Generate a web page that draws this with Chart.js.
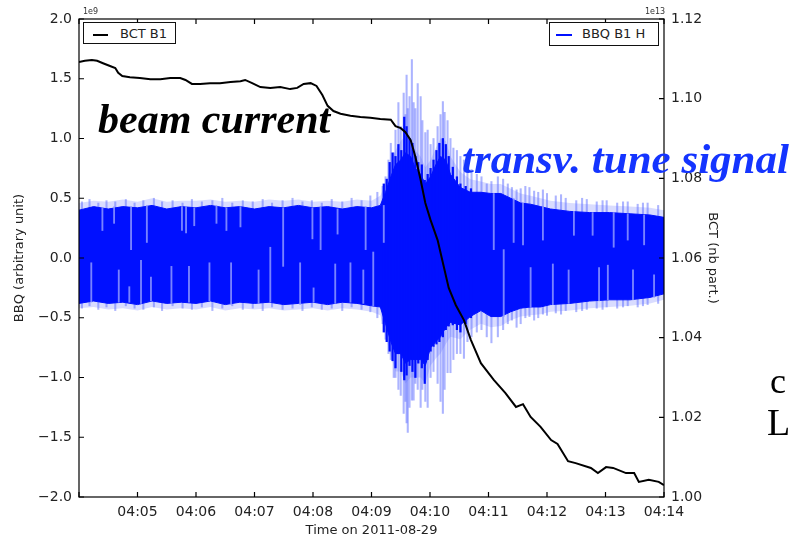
<!DOCTYPE html>
<html>
<head>
<meta charset="utf-8">
<script src="https://cdn.jsdelivr.net/npm/chart.js@4.4.1/dist/chart.umd.min.js"></script>
<style>
  html, body { margin: 0; padding: 0; background: #fff; }
  #wrap { position: relative; width: 791px; height: 539px; overflow: hidden; }
  #chart { position: absolute; left: 0; top: 0; }
  .lbl { position: absolute; white-space: nowrap; }
  .legend { position: absolute; border: 1.5px solid #111; background: #fff;
            font: 13px "DejaVu Sans", sans-serif; color: #222; box-sizing: border-box; }
  .legend .swatch { position: absolute; height: 1.5px; }
  .legend .txt { position: absolute; top: 3px; }
  .note { font-family: "Liberation Serif", "Times New Roman", serif; font-weight: bold; font-style: italic; }
  .plain { font-family: "Liberation Serif", "Times New Roman", serif; color: #000; }
  .offset { font: 8px "DejaVu Sans", sans-serif; color: #333; }
</style>
</head>
<body>
<div id="wrap">
  <canvas id="chart" width="791" height="539"></canvas>

  <div class="legend" style="left:83px; top:22px; width:93px; height:22px;">
    <div class="swatch" style="left:9px; top:11px; width:15px; background:#000;"></div>
    <div class="txt" style="left:36px;">BCT B1</div>
  </div>
  <div class="legend" style="left:549px; top:22px; width:110px; height:24px;">
    <div class="swatch" style="left:6px; top:11px; width:16px; background:#0010ff;"></div>
    <div class="txt" style="left:32px;">BBQ B1 H</div>
  </div>

  <div class="lbl offset" style="left:83px; top:7px;">1e9</div>
  <div class="lbl offset" style="left:645px; top:7px;">1e13</div>

  <div class="lbl note" style="left:98px; top:95px; font-size:42px; color:#000;">beam current</div>
  <div class="lbl note" style="left:462px; top:134px; font-size:43px; color:#1434ff;">transv. tune signal</div>
  <div class="lbl plain" style="left:770px; top:360px; font-size:36px;">c</div>
  <div class="lbl plain" style="left:767px; top:400px; font-size:38px;">L</div>
</div>

<script>
// x axis: minutes after 04:04
const timeTicks = ["04:04","04:05","04:06","04:07","04:08","04:09","04:10","04:11","04:12","04:13","04:14"];

// BCT B1 (units of 1e13 particles)
const bctTimes = [0.00,0.10,0.22,0.31,0.41,0.53,0.62,0.67,0.74,0.87,1.04,1.22,1.39,1.56,1.73,1.82,1.93,2.07,2.24,2.41,2.59,2.76,2.84,2.96,3.10,3.27,3.44,3.61,3.73,3.84,3.96,4.06,4.16,4.25,4.35,4.47,4.64,4.81,4.98,5.15,5.33,5.41,5.50,5.58,5.67,5.75,5.84,5.92,6.01,6.13,6.23,6.32,6.44,6.58,6.70,6.87,7.09,7.29,7.47,7.59,7.72,7.89,8.07,8.18,8.36,8.49,8.75,8.87,9.01,9.13,9.35,9.49,9.57,9.74,9.91,10.0];
const bctValues = [1.1092,1.1095,1.1097,1.1095,1.1089,1.1082,1.1077,1.1065,1.1057,1.1054,1.1052,1.1049,1.1049,1.1052,1.1052,1.1047,1.1037,1.1037,1.1039,1.1039,1.1042,1.1044,1.1047,1.1039,1.1029,1.1027,1.1029,1.1024,1.1027,1.1037,1.1039,1.1032,1.1009,1.0982,1.0969,1.0962,1.0957,1.0954,1.0952,1.0949,1.0947,1.0931,1.0926,1.0916,1.0896,1.0854,1.0796,1.0738,1.0695,1.0645,1.0582,1.0525,1.0482,1.0444,1.0394,1.0336,1.0294,1.0261,1.0226,1.0233,1.0201,1.0176,1.0143,1.0133,1.0090,1.0085,1.0073,1.0060,1.0075,1.0073,1.0060,1.0060,1.0038,1.0043,1.0038,1.0030];

// BBQ B1 H dense core envelope and its pale fringe (units of 1e9)
const coreTimes = [0.00,0.25,0.50,0.75,1.00,1.25,1.50,1.75,2.00,2.25,2.50,2.75,3.00,3.25,3.50,3.75,4.00,4.25,4.50,4.75,5.00,5.15,5.24,5.33,5.41,5.50,5.58,5.67,5.75,5.84,5.92,6.01,6.10,6.18,6.27,6.35,6.52,6.69,6.87,7.04,7.21,7.38,7.55,7.72,7.89,8.06,8.39,8.73,9.07,9.42,9.76,10.0];
const coreUpper = [0.40,0.43,0.41,0.43,0.42,0.44,0.41,0.43,0.42,0.44,0.42,0.43,0.41,0.43,0.42,0.44,0.42,0.43,0.41,0.43,0.42,0.44,0.55,0.68,0.78,0.82,0.88,0.85,0.75,0.70,0.62,0.68,0.78,0.85,0.82,0.70,0.59,0.55,0.55,0.54,0.54,0.50,0.46,0.45,0.43,0.41,0.39,0.38,0.38,0.37,0.36,0.34];
const coreLower = [-0.38,-0.36,-0.38,-0.37,-0.39,-0.36,-0.38,-0.37,-0.38,-0.36,-0.39,-0.37,-0.38,-0.37,-0.39,-0.38,-0.37,-0.39,-0.37,-0.38,-0.40,-0.41,-0.55,-0.70,-0.80,-0.80,-0.88,-0.85,-0.85,-0.85,-0.90,-0.75,-0.70,-0.66,-0.58,-0.54,-0.56,-0.49,-0.44,-0.49,-0.49,-0.45,-0.42,-0.41,-0.41,-0.39,-0.38,-0.36,-0.35,-0.35,-0.33,-0.30];
const fuzzUpper = [0.46,0.48,0.47,0.49,0.47,0.50,0.47,0.48,0.48,0.49,0.47,0.48,0.47,0.49,0.48,0.49,0.47,0.48,0.47,0.49,0.48,0.52,0.62,0.78,0.90,0.98,1.02,1.00,0.90,0.85,0.76,0.82,0.92,1.00,0.98,0.85,0.72,0.66,0.64,0.62,0.62,0.58,0.54,0.52,0.50,0.48,0.46,0.45,0.44,0.43,0.42,0.40];
const fuzzLower = [-0.42,-0.41,-0.43,-0.42,-0.44,-0.41,-0.43,-0.42,-0.43,-0.41,-0.44,-0.42,-0.43,-0.42,-0.44,-0.43,-0.42,-0.44,-0.42,-0.43,-0.45,-0.48,-0.65,-0.82,-0.95,-0.95,-1.05,-1.00,-1.00,-1.00,-1.05,-0.90,-0.84,-0.80,-0.72,-0.66,-0.68,-0.60,-0.55,-0.58,-0.57,-0.52,-0.49,-0.48,-0.47,-0.45,-0.44,-0.42,-0.41,-0.40,-0.38,-0.35];

// BBQ solid oscillation peaks during the instability
const burstTimes = [5.21,5.26,5.31,5.36,5.41,5.46,5.51,5.56,5.60,5.65,5.70,5.75,5.80,5.86,5.91,5.96,6.01,6.06,6.11,6.16,6.22,6.27,6.32,6.39,6.46,6.52,6.61,6.70];
const burstLow = [-0.62,-0.70,-0.78,-0.86,-0.92,-0.80,-0.95,-1.02,-0.98,-0.90,-0.95,-1.00,-0.88,-0.92,-1.05,-0.85,-0.78,-0.74,-0.72,-0.70,-0.66,-0.60,-0.57,-0.56,-0.60,-0.62,-0.55,-0.50];
const burstHigh = [0.62,0.66,0.80,0.88,0.85,0.95,0.90,1.18,1.10,1.00,0.96,0.85,0.80,0.78,0.65,0.70,0.75,0.82,0.90,0.96,1.00,0.95,0.85,0.76,0.68,0.62,0.60,0.58];

// BBQ lighter spikes sticking out of the core
const spikeTimes = [0.05,0.18,0.33,0.47,0.62,0.80,0.95,1.10,1.28,1.42,1.60,1.77,1.93,2.10,2.28,2.45,2.62,2.80,2.97,3.14,3.30,3.48,3.65,3.82,3.98,4.15,4.32,4.50,4.66,4.83,4.98,5.10,
                    5.19,5.24,5.29,5.33,5.38,5.41,5.46,5.50,5.55,5.58,5.60,5.62,5.65,5.69,5.72,5.75,5.79,5.84,5.87,5.92,5.96,6.01,6.06,6.13,6.18,6.22,6.25,6.30,6.35,6.40,6.46,6.52,6.58,6.64,6.71,6.80,6.88,6.97,7.05,7.16,
                    7.25,7.33,7.40,7.48,7.55,7.63,7.70,7.78,7.85,7.93,8.00,8.15,8.24,8.32,8.50,8.60,8.68,8.85,8.95,9.02,9.20,9.30,9.38,9.55,9.64,9.72,9.90];
const spikeLow = [-0.42,-0.40,-0.43,-0.41,-0.44,-0.40,-0.42,-0.43,-0.41,-0.44,-0.40,-0.42,-0.43,-0.41,-0.44,-0.42,-0.40,-0.43,-0.42,-0.44,-0.41,-0.43,-0.42,-0.44,-0.41,-0.43,-0.42,-0.44,-0.41,-0.43,-0.45,-0.50,
                  -0.55,-0.68,-0.80,-0.85,-1.00,-1.00,-1.10,-1.15,-1.30,-1.20,-1.38,-1.46,-1.25,-1.19,-1.19,-1.05,-1.10,-1.25,-1.10,-1.20,-1.25,-1.00,-0.95,-1.05,-1.20,-1.30,-1.10,-0.96,-0.96,-0.85,-0.80,-0.80,-0.84,-0.70,-0.66,-0.62,-0.60,-0.66,-0.71,-0.66,
                  -0.60,-0.55,-0.52,-0.58,-0.55,-0.50,-0.49,-0.52,-0.50,-0.47,-0.48,-0.46,-0.47,-0.44,-0.45,-0.44,-0.43,-0.42,-0.43,-0.41,-0.42,-0.41,-0.40,-0.41,-0.40,-0.39,-0.38];
const spikeHigh = [0.47,0.49,0.46,0.48,0.47,0.49,0.46,0.48,0.50,0.47,0.48,0.46,0.49,0.47,0.48,0.50,0.46,0.48,0.47,0.49,0.46,0.48,0.50,0.47,0.48,0.46,0.49,0.47,0.50,0.48,0.52,0.55,
                   0.60,0.68,0.82,0.96,0.88,1.07,1.30,1.10,1.38,1.20,1.53,1.25,1.35,1.66,1.30,1.25,1.46,1.35,1.15,1.05,1.07,0.95,1.00,1.10,1.20,1.31,1.22,1.15,1.00,0.92,0.90,0.85,0.82,0.78,0.74,0.70,0.68,0.62,0.64,0.68,
                   0.66,0.62,0.59,0.57,0.58,0.60,0.59,0.56,0.55,0.57,0.54,0.52,0.53,0.50,0.48,0.50,0.49,0.47,0.48,0.48,0.46,0.47,0.47,0.45,0.46,0.46,0.44];

// BBQ pale streaks inside the core
const streakTimes = [0.40,0.60,0.89,1.16,1.76,1.83,1.97,2.35,2.52,2.76,3.49,3.99,4.13,4.42,4.90,5.21,7.09,7.43,7.59,7.93,8.46,8.78,9.14,9.38,9.66,
                     0.21,0.68,0.86,1.06,1.23,1.58,1.88,2.23,2.60,3.07,3.27,3.78,4.01,4.38,4.64,4.86,5.03,7.26,7.72,8.10,8.37,8.89,9.04,9.47,9.83];
const streakLow = [0.23,0.29,0.07,0.13,0.23,0.21,0.27,0.29,0.23,0.26,-0.07,0.16,0.07,0.20,0.07,0.13,0.07,0.13,0.11,0.15,0.19,0.19,0.09,0.15,0.11,
                   -0.37,-0.37,-0.37,-0.38,-0.36,-0.38,-0.37,-0.36,-0.39,-0.38,-0.37,-0.39,-0.37,-0.38,-0.37,-0.38,-0.40,-0.49,-0.41,-0.39,-0.38,-0.36,-0.35,-0.35,-0.33];
const streakHigh = [0.42,0.43,0.43,0.44,0.43,0.43,0.42,0.44,0.42,0.43,0.42,0.42,0.43,0.41,0.43,0.44,0.54,0.50,0.46,0.43,0.39,0.38,0.38,0.37,0.36,
                    -0.04,-0.10,-0.24,-0.02,-0.16,-0.07,-0.07,-0.04,-0.04,-0.10,0.09,-0.04,-0.25,-0.05,-0.04,-0.10,0.05,0.07,-0.08,-0.05,-0.10,-0.08,-0.06,-0.10,-0.14];

const BLUE = "#0010ff";
const FRINGE = "rgba(120,130,255,0.28)";
const pts = (xs, ys) => xs.map((x, i) => ({ x: x, y: ys[i] }));
const bars = (xs, lo, hi) => xs.map((x, i) => ({ x: x, y: [lo[i], hi[i]] }));
const fmtMinus = s => s.replace("-", "\u2212");

// matplotlib style frame with inward ticks
const frameTicks = {
    id: "frameTicks",
    afterDraw(chart) {
        const { ctx, chartArea: a, scales } = chart;
        const len = 5;
        ctx.save();
        ctx.strokeStyle = "#000";
        ctx.lineWidth = 1.2;
        ctx.strokeRect(a.left, a.top, a.right - a.left, a.bottom - a.top);
        ctx.beginPath();
        scales.x.ticks.forEach(t => {
            const px = scales.x.getPixelForValue(t.value);
            ctx.moveTo(px, a.bottom); ctx.lineTo(px, a.bottom - len);
            ctx.moveTo(px, a.top); ctx.lineTo(px, a.top + len);
        });
        scales.y.ticks.forEach(t => {
            const py = scales.y.getPixelForValue(t.value);
            ctx.moveTo(a.left, py); ctx.lineTo(a.left + len, py);
        });
        scales.y1.ticks.forEach(t => {
            const py = scales.y1.getPixelForValue(t.value);
            ctx.moveTo(a.right, py); ctx.lineTo(a.right - len, py);
        });
        ctx.stroke();
        ctx.restore();
    }
};

const tickFont = { family: "DejaVu Sans", size: 14 };
const titleFont = { family: "DejaVu Sans", size: 13 };

new Chart(document.getElementById("chart"), {
    type: "line",
    data: {
        datasets: [
            {
                label: "BCT B1",
                data: pts(bctTimes, bctValues),
                yAxisID: "y1",
                borderColor: "#000",
                borderWidth: 2,
                pointRadius: 0,
                tension: 0,
                order: 0
            },
            {
                type: "bar",
                label: "streaks",
                data: bars(streakTimes, streakLow, streakHigh),
                yAxisID: "y",
                backgroundColor: "rgba(150,160,255,0.8)",
                barThickness: 1.2,
                grouped: false,
                order: 1
            },
            {
                type: "bar",
                label: "burst",
                data: bars(burstTimes, burstLow, burstHigh),
                yAxisID: "y",
                backgroundColor: BLUE,
                barThickness: 1.6,
                grouped: false,
                order: 2
            },
            {
                label: "core upper",
                data: pts(coreTimes, coreUpper),
                yAxisID: "y",
                borderColor: BLUE,
                borderWidth: 1,
                pointRadius: 0,
                tension: 0,
                fill: false,
                order: 3
            },
            {
                label: "BBQ B1 H",
                data: pts(coreTimes, coreLower),
                yAxisID: "y",
                borderColor: BLUE,
                backgroundColor: BLUE,
                borderWidth: 1,
                pointRadius: 0,
                tension: 0,
                fill: "-1",
                order: 3
            },
            {
                type: "bar",
                label: "spikes",
                data: bars(spikeTimes, spikeLow, spikeHigh),
                yAxisID: "y",
                backgroundColor: "rgba(90,105,255,0.5)",
                barThickness: 1.4,
                grouped: false,
                order: 4
            },
            {
                label: "fringe upper",
                data: pts(coreTimes, fuzzUpper),
                yAxisID: "y",
                borderWidth: 0,
                borderColor: "rgba(0,0,0,0)",
                pointRadius: 0,
                tension: 0,
                fill: false,
                order: 5
            },
            {
                label: "fringe lower",
                data: pts(coreTimes, fuzzLower),
                yAxisID: "y",
                borderWidth: 0,
                borderColor: "rgba(0,0,0,0)",
                backgroundColor: FRINGE,
                pointRadius: 0,
                tension: 0,
                fill: "-1",
                order: 5
            }
        ]
    },
    options: {
        responsive: false,
        animation: false,
        layout: { padding: { top: 19, left: 0, right: 0, bottom: 0 } },
        plugins: { legend: { display: false }, tooltip: { enabled: false } },
        scales: {
            x: {
                type: "linear",
                min: 0, max: 10,
                offset: false,
                grid: { display: false, drawTicks: false },
                border: { display: false },
                ticks: {
                    stepSize: 1,
                    padding: 7,
                    maxRotation: 0,
                    autoSkip: false,
                    color: "#222",
                    font: tickFont,
                    callback: v => (v === 0 ? "" : timeTicks[Math.round(v)])
                },
                title: { display: true, text: "Time on 2011-08-29", color: "#222", font: titleFont, padding: { top: 0, bottom: 1 } },
                afterFit: s => { s.height = 42; }
            },
            y: {
                position: "left",
                min: -2, max: 2,
                grid: { display: false, drawTicks: false },
                border: { display: false },
                ticks: { stepSize: 0.5, padding: 7, color: "#222", font: tickFont, callback: v => fmtMinus(v.toFixed(1)) },
                title: { display: true, text: "BBQ (arbitrary unit)", color: "#222", font: titleFont, padding: { top: 12, bottom: 0 } },
                afterFit: s => { s.width = 79; }
            },
            y1: {
                position: "right",
                min: 1.00, max: 1.12,
                grid: { display: false, drawTicks: false },
                border: { display: false },
                ticks: { stepSize: 0.02, padding: 7, color: "#222", font: tickFont, callback: v => v.toFixed(2) },
                title: { display: true, text: "BCT (nb part.)", color: "#222", font: titleFont, padding: { top: 71, bottom: 0 } },
                afterFit: s => { s.width = 127; }
            }
        }
    },
    plugins: [frameTicks]
});
</script>
</body>
</html>
